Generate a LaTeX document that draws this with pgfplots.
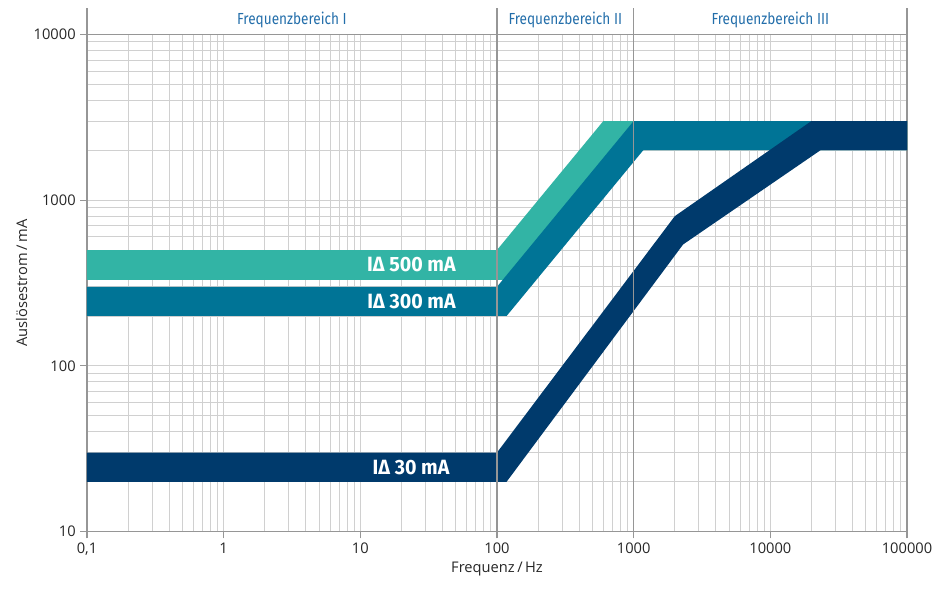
\documentclass[border=0pt]{standalone}
\usepackage{fontspec}
\setmainfont{Open Sans}
\newfontfamily\condfont{Fira Sans}[FakeStretch=0.85]
\newfontfamily\labfont{Fira Sans}[FakeStretch=0.95]
\usepackage{pgfplots}
\pgfplotsset{compat=1.18}
\definecolor{cteal}{RGB}{50,180,165}
\definecolor{cblue}{RGB}{0,116,150}
\definecolor{cnavy}{RGB}{0,58,108}
\definecolor{chead}{RGB}{35,110,170}
\definecolor{cgrid}{RGB}{208,208,208}
\definecolor{caxis}{RGB}{150,150,150}
\begin{document}
\begin{tikzpicture}
\useasboundingbox (-65.25pt,-44.5pt) rectangle (635.25pt,398.75pt);
\begin{axis}[
  at={(0pt,0pt)}, anchor=south west,
  scale only axis, width=615pt, height=373pt,
  xmode=log, ymode=log,
  xmin=0.1, xmax=100000, ymin=10, ymax=10000,
  xtick={0.1,1,10,100,1000,10000,100000},
  xticklabels={{0,1},1,10,100,1000,10000,100000},
  ytick={10,100,1000,10000},
  yticklabels={10,100,1000,10000},
  xtick pos=bottom, ytick pos=left,
  grid=both,
  major grid style={cgrid, line width=0.7pt},
  minor grid style={cgrid, line width=0.7pt},
  axis line style={caxis, line width=1pt},
  tick align=outside, major tick length=5pt, minor tick length=0pt,
  tick style={caxis, line width=0.8pt},
  ticklabel style={font=\fontsize{11}{13}\selectfont, text=black!85},
  xlabel={Frequenz\,/\,Hz}, ylabel={Auslösestrom\,/\,mA},
  label style={font=\fontsize{11}{13}\selectfont, text=black!85},
  xlabel style={yshift=2pt}, ylabel style={yshift=-2pt},
  clip=false,
]
\addplot[fill=cteal, draw=none] coordinates {(0.1,500) (100,500) (600,3000) (100000,3000) (100000,2000) (700,2000) (117.6,330) (0.1,330)} --cycle;
\addplot[fill=cblue, draw=none] coordinates {(0.1,300) (100,300) (1000,3000) (100000,3000) (100000,2000) (1176,2000) (117.6,200) (0.1,200)} --cycle;
\addplot[fill=cnavy, draw=none] coordinates {(0.1,30) (100,30) (2000,800) (20000,3000) (100000,3000) (100000,2000) (23300,2000) (2300,540) (117.6,20) (0.1,20)} --cycle;
\draw[caxis, line width=1pt] (axis cs:100,10) -- ([yshift=19.5pt]axis cs:100,10000);
\draw[caxis, line width=1pt] (axis cs:1000,10) -- ([yshift=19.5pt]axis cs:1000,10000);
\draw[caxis, line width=1pt] (axis cs:0.1,10000) -- ([yshift=19.5pt]axis cs:0.1,10000);
\draw[caxis, line width=1pt] (axis cs:100000,10000) -- ([yshift=19.5pt]axis cs:100000,10000);
\node[text=chead, font=\condfont\fontsize{12}{14}\selectfont] at ([yshift=10.5pt]axis cs:3.1623,10000) {Frequenzbereich I};
\node[text=chead, font=\condfont\fontsize{12}{14}\selectfont] at ([yshift=10.5pt]axis cs:316.23,10000) {Frequenzbereich II};
\node[text=chead, font=\condfont\fontsize{12}{14}\selectfont] at ([yshift=10.5pt]axis cs:10000,10000) {Frequenzbereich III};
\node[anchor=east, text=white, font=\labfont\bfseries\fontsize{15.5}{17}\selectfont, inner sep=0pt] at (axis cs:50,406) {IΔ 500 mA};
\node[anchor=east, text=white, font=\labfont\bfseries\fontsize{15.5}{17}\selectfont, inner sep=0pt] at (axis cs:50,245) {IΔ 300 mA};
\node[anchor=east, text=white, font=\labfont\bfseries\fontsize{15.5}{17}\selectfont, inner sep=0pt] at (axis cs:45,24.5) {IΔ 30 mA};
\end{axis}
\end{tikzpicture}
\end{document}
